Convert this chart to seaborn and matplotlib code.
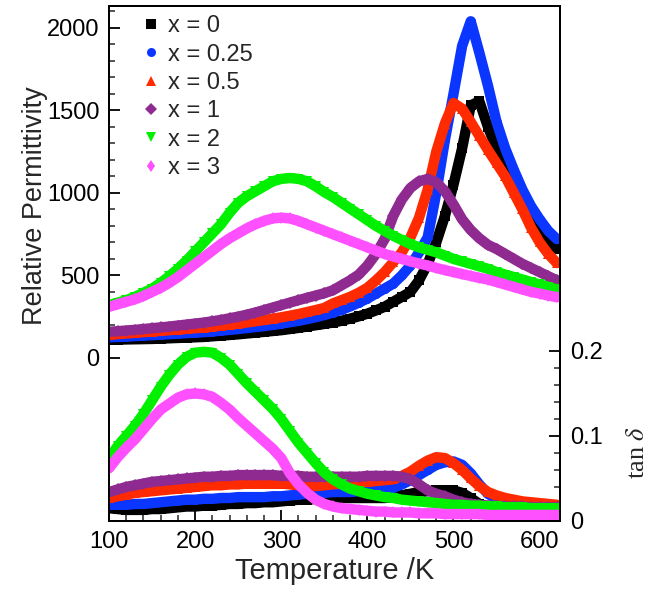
import numpy as np
import pandas as pd
import matplotlib
import matplotlib.pyplot as plt
import seaborn as sns
from matplotlib.lines import Line2D
from matplotlib.ticker import FixedLocator

matplotlib.use('Agg')

# temperature grid (K)
temperature = list(range(100, 630, 10))

labels = ['x = 0', 'x = 0.25', 'x = 0.5', 'x = 1', 'x = 2', 'x = 3']
colors = ['#000000', '#0A36FF', '#FF2A00', '#8E2A90', '#00F000', '#FF50FF']
markers = ['s', 'o', '^', 'D', 'v', 'd']

# relative permittivity
eps_x0 = [110, 111, 112, 113, 114, 115, 117, 119, 121, 123, 125, 127, 131, 135, 139, 143, 148, 153,
          158, 163, 168, 175, 182, 190, 198, 206, 214, 225, 238, 252, 268, 288, 310, 340, 370, 400,
          470, 570, 700, 860, 1050, 1270, 1530, 1555, 1400, 1270, 1170, 1080, 980, 880, 780, 710, 660]
eps_x025 = [125, 127, 129, 132, 135, 138, 141, 144, 147, 150, 153, 156, 160, 165, 170, 175, 181, 187,
            193, 200, 208, 216, 225, 235, 247, 260, 275, 292, 312, 335, 360, 390, 420, 450, 500, 560,
            640, 730, 1000, 1320, 1600, 1890, 2040, 1850, 1650, 1430, 1270, 1140, 1020, 920, 840, 770, 720]
eps_x05 = [140, 144, 148, 152, 156, 160, 164, 168, 172, 176, 180, 184, 190, 196, 202, 208, 215, 222,
           230, 238, 246, 256, 266, 278, 290, 303, 330, 350, 370, 395, 425, 470, 520, 580, 640, 730,
           850, 1020, 1250, 1420, 1545, 1510, 1430, 1345, 1260, 1180, 1100, 1000, 900, 790, 700, 630, 575]
eps_x1 = [158, 162, 166, 170, 175, 180, 185, 190, 196, 202, 208, 214, 222, 230, 240, 250, 262, 275,
          290, 305, 320, 335, 350, 364, 378, 392, 410, 440, 470, 505, 560, 630, 720, 860, 960, 1030,
          1070, 1085, 1065, 1010, 930, 840, 775, 725, 685, 660, 630, 600, 570, 545, 520, 495, 470]
eps_x2 = [320, 335, 350, 370, 395, 420, 455, 495, 540, 590, 645, 700, 755, 810, 880, 940, 980, 1010,
          1040, 1070, 1085, 1090, 1085, 1070, 1040, 1005, 975, 940, 905, 870, 835, 800, 770, 740, 715,
          690, 670, 655, 640, 620, 600, 585, 570, 555, 540, 520, 505, 490, 475, 460, 445, 430, 415]
eps_x3 = [310, 325, 340, 355, 375, 400, 425, 455, 490, 530, 570, 610, 650, 690, 725, 755, 785, 810,
          830, 845, 850, 845, 830, 810, 790, 770, 750, 730, 710, 690, 670, 650, 630, 615, 600, 585,
          572, 560, 545, 532, 520, 508, 497, 485, 475, 460, 445, 430, 415, 400, 390, 378, 368]

# loss tangent
tan_x0 = [0.015, 0.014, 0.013, 0.013, 0.013, 0.014, 0.014, 0.015, 0.016, 0.017, 0.017, 0.018, 0.018,
          0.019, 0.020, 0.020, 0.021, 0.021, 0.022, 0.022, 0.023, 0.024, 0.025, 0.025, 0.026, 0.027,
          0.027, 0.027, 0.027, 0.027, 0.027, 0.027, 0.027, 0.028, 0.030, 0.032, 0.034, 0.035, 0.036,
          0.036, 0.036, 0.033, 0.027, 0.020, 0.017, 0.016, 0.016, 0.016, 0.015, 0.015, 0.015, 0.015, 0.015]
tan_x025 = [0.019, 0.019, 0.019, 0.020, 0.020, 0.021, 0.022, 0.023, 0.024, 0.025, 0.025, 0.026, 0.026,
            0.027, 0.027, 0.028, 0.028, 0.028, 0.028, 0.029, 0.029, 0.030, 0.031, 0.032, 0.033, 0.033,
            0.034, 0.034, 0.034, 0.035, 0.035, 0.036, 0.037, 0.039, 0.043, 0.048, 0.054, 0.060, 0.066,
            0.069, 0.070, 0.066, 0.056, 0.043, 0.032, 0.026, 0.023, 0.021, 0.020, 0.019, 0.018, 0.018, 0.017]
tan_x05 = [0.027, 0.029, 0.031, 0.033, 0.034, 0.035, 0.036, 0.037, 0.038, 0.039, 0.040, 0.041, 0.042,
           0.042, 0.043, 0.043, 0.044, 0.044, 0.044, 0.044, 0.044, 0.043, 0.042, 0.041, 0.041, 0.042,
           0.043, 0.044, 0.045, 0.046, 0.046, 0.047, 0.048, 0.049, 0.053, 0.058, 0.065, 0.071, 0.075,
           0.074, 0.068, 0.060, 0.050, 0.041, 0.034, 0.030, 0.027, 0.025, 0.023, 0.022, 0.021, 0.020, 0.019]
tan_x1 = [0.034, 0.037, 0.040, 0.042, 0.044, 0.046, 0.047, 0.048, 0.049, 0.050, 0.051, 0.052, 0.052,
          0.053, 0.053, 0.054, 0.054, 0.054, 0.054, 0.054, 0.053, 0.053, 0.053, 0.052, 0.052, 0.052,
          0.052, 0.052, 0.052, 0.052, 0.053, 0.053, 0.053, 0.053, 0.052, 0.049, 0.043, 0.036, 0.032,
          0.029, 0.025, 0.022, 0.020, 0.019, 0.018, 0.018, 0.017, 0.017, 0.017, 0.016, 0.016, 0.016, 0.016]
tan_x2 = [0.074, 0.088, 0.100, 0.112, 0.126, 0.142, 0.158, 0.172, 0.184, 0.193, 0.198, 0.199, 0.198,
          0.192, 0.184, 0.173, 0.162, 0.152, 0.142, 0.132, 0.120, 0.106, 0.092, 0.080, 0.068, 0.057,
          0.049, 0.043, 0.038, 0.035, 0.032, 0.030, 0.028, 0.027, 0.025, 0.024, 0.023, 0.022, 0.021,
          0.020, 0.019, 0.019, 0.018, 0.018, 0.017, 0.017, 0.016, 0.016, 0.016, 0.015, 0.015, 0.015, 0.015]
tan_x3 = [0.062, 0.075, 0.086, 0.096, 0.108, 0.120, 0.131, 0.138, 0.145, 0.149, 0.150, 0.149, 0.146,
          0.139, 0.131, 0.121, 0.112, 0.103, 0.094, 0.085, 0.074, 0.056, 0.043, 0.033, 0.025, 0.020,
          0.017, 0.015, 0.014, 0.013, 0.012, 0.011, 0.011, 0.010, 0.010, 0.010, 0.009, 0.009, 0.009,
          0.008, 0.008, 0.008, 0.008, 0.008, 0.007, 0.007, 0.007, 0.007, 0.007, 0.007, 0.007, 0.007, 0.007]

eps_all = [eps_x0, eps_x025, eps_x05, eps_x1, eps_x2, eps_x3]
tan_all = [tan_x0, tan_x025, tan_x05, tan_x1, tan_x2, tan_x3]

rows = []
for lab, e, t in zip(labels, eps_all, tan_all):
    for T, ev, tv in zip(temperature, e, t):
        rows.append({'T': T, 'eps': ev, 'tan': tv, 'x': lab})
df = pd.DataFrame(rows)

sns.set_style('ticks')
plt.rcParams['font.family'] = ['Liberation Sans', 'DejaVu Sans']
plt.rcParams['mathtext.fontset'] = 'stix'

fig = plt.figure(figsize=(6.53, 5.94), dpi=100)
ax = fig.add_axes([0.167, 0.123, 0.691, 0.867])
ax2 = ax.twinx()

pal = dict(zip(labels, colors))
mk = dict(zip(labels, markers))

# thick line + small markers gives the dense-marker band look
sns.lineplot(data=df, x='T', y='eps', hue='x', style='x', palette=pal, markers=mk, dashes=False,
             linewidth=7.5, markersize=6.5, markeredgewidth=0, legend=False, ax=ax)
sns.lineplot(data=df, x='T', y='tan', hue='x', style='x', palette=pal, markers=mk, dashes=False,
             linewidth=7.5, markersize=6.5, markeredgewidth=0, legend=False, ax=ax2)

ax.set_xlim(100, 624)
ax.set_ylim(-988, 2133)
ax2.set_ylim(0, 0.606)

ax.yaxis.set_major_locator(FixedLocator([0, 500, 1000, 1500, 2000]))
ax.yaxis.set_minor_locator(FixedLocator([v for v in range(100, 2200, 100) if v % 500]))
ax.xaxis.set_major_locator(FixedLocator([100, 200, 300, 400, 500, 600]))
ax.xaxis.set_minor_locator(FixedLocator([v for v in range(120, 630, 20) if v % 100]))
ax2.yaxis.set_major_locator(FixedLocator([0, 0.1, 0.2]))
ax2.yaxis.set_minor_locator(FixedLocator([0.02, 0.04, 0.06, 0.08, 0.12, 0.14, 0.16, 0.18]))
ax2.set_yticklabels(['0', '0.1', '0.2'])

for a in (ax, ax2):
    for s in a.spines.values():
        s.set_linewidth(1.4)
        s.set_color('black')
    a.tick_params(which='major', direction='in', length=8, width=1.3, labelsize=17, pad=7, colors='black')
    a.tick_params(which='minor', direction='in', length=4.5, width=1.1)

ax.tick_params(axis='y', which='both', right=False)
ax.tick_params(axis='x', which='both', top=False)

ax.set_xlabel('Temperature /K', fontsize=21, labelpad=3)
ax.set_ylabel('Relative Permittivity', fontsize=19.5)
ax.yaxis.set_label_coords(-0.135, 0.612)
ax2.set_ylabel(r'tan $\delta$', fontsize=19, family='Liberation Serif', rotation=90)
ax2.yaxis.set_label_coords(1.148, 0.132)
ax2.yaxis.label.set_va('top')

handles = [Line2D([], [], ls='none', marker=m, color=c, markersize=6.5, markeredgewidth=0)
           for m, c in zip(markers, colors)]
ax.legend(handles, labels, loc='upper left', bbox_to_anchor=(0.075, 0.982), frameon=False,
          fontsize=17, handlelength=0.7, handletextpad=0.35, labelspacing=0.27,
          borderpad=0, borderaxespad=0)

fig.savefig('out.png', dpi=100)
plt.close()
